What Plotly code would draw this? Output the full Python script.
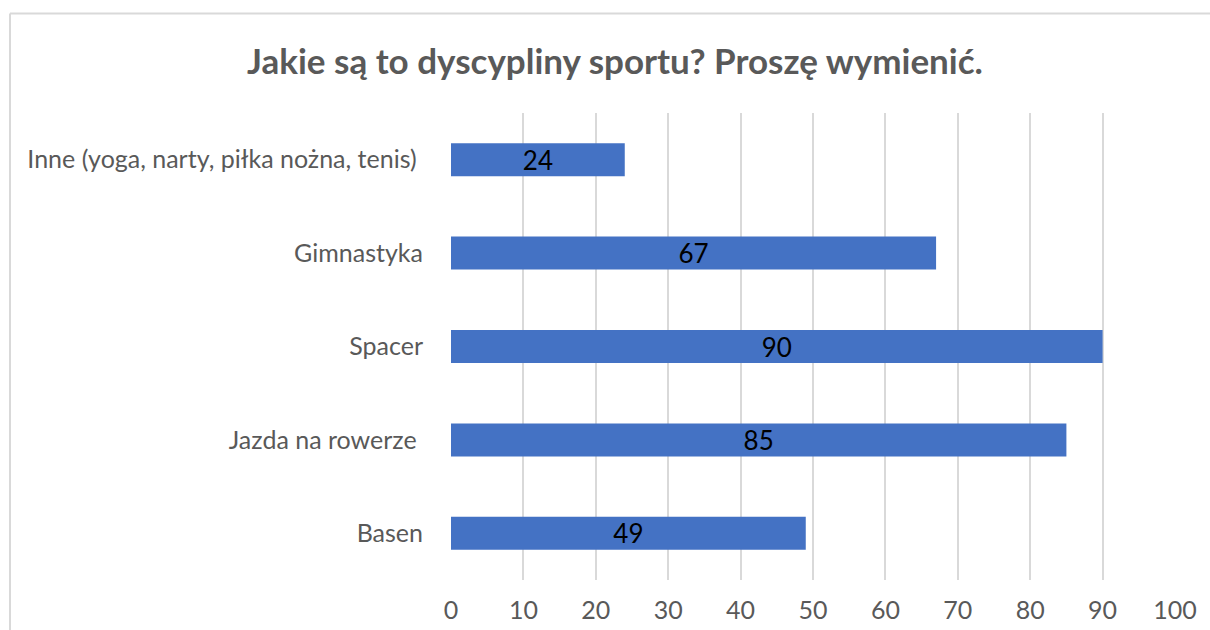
import plotly.graph_objects as go

categories = ["Basen", "Jazda na rowerze\u00a0", "Spacer", "Gimnastyka",
              "Inne (yoga, narty, piłka nożna, tenis)\u00a0"]
values = [49, 85, 90, 67, 24]
x_ticks = [0, 10, 20, 30, 40, 50, 60, 70, 80, 90, 100]
title_text = "Jakie są to dyscypliny sportu? Proszę wymienić."

W, H = 1210, 630
L, R, T, B = 451, 35, 113, 50
pw, ph = W - L - R, H - T - B

def px_x(px):
    return (px - L) / pw

def px_y(py):
    return (H - B - py) / ph

fig = go.Figure()
fig.add_trace(go.Bar(
    x=values, y=categories, orientation="h",
    marker=dict(color="#4472C4", line=dict(width=0)),
    width=0.353,
    text=[str(v) for v in values],
    textposition="inside", insidetextanchor="middle",
    textfont=dict(family="Lato", size=26, color="#000000"),
    textangle=0,
    cliponaxis=False,
))

fig.update_layout(
    width=W, height=H,
    margin=dict(l=L, r=R, t=T, b=B, autoexpand=False),
    paper_bgcolor="white", plot_bgcolor="white",
    showlegend=False,
    uniformtext=dict(minsize=26, mode="show"),
    title=dict(text=title_text, x=615 / W, xref="container", xanchor="center",
               y=1 - 62 / H, yref="container", yanchor="middle",
               font=dict(family="Lato", size=35, color="#595959", weight="bold")),
    xaxis=dict(range=[0, 100], tickvals=x_ticks, showgrid=True,
               gridcolor="#d9d9d9", gridwidth=1.5, zeroline=False,
               showline=False, ticks="outside", ticklen=8, tickcolor="rgba(0,0,0,0)",
               tickfont=dict(family="Lato", size=25, color="#595959")),
    yaxis=dict(showgrid=False, zeroline=False, showline=False,
               ticks="outside", ticklen=22, tickcolor="rgba(0,0,0,0)",
               tickfont=dict(family="Lato", size=25, color="#595959")),
    shapes=[
        dict(type="line", xref="paper", yref="paper",
             x0=px_x(10), x1=px_x(1215), y0=px_y(13.5), y1=px_y(13.5),
             line=dict(color="#d9d9d9", width=2)),
        dict(type="line", xref="paper", yref="paper",
             x0=px_x(10), x1=px_x(10), y0=px_y(13.5), y1=px_y(640),
             line=dict(color="#d9d9d9", width=2)),
    ],
)

fig.write_html("out.html",
               config={"displayModeBar": False},
               post_script="document.body.style.margin='0';document.body.style.overflow='hidden';")
